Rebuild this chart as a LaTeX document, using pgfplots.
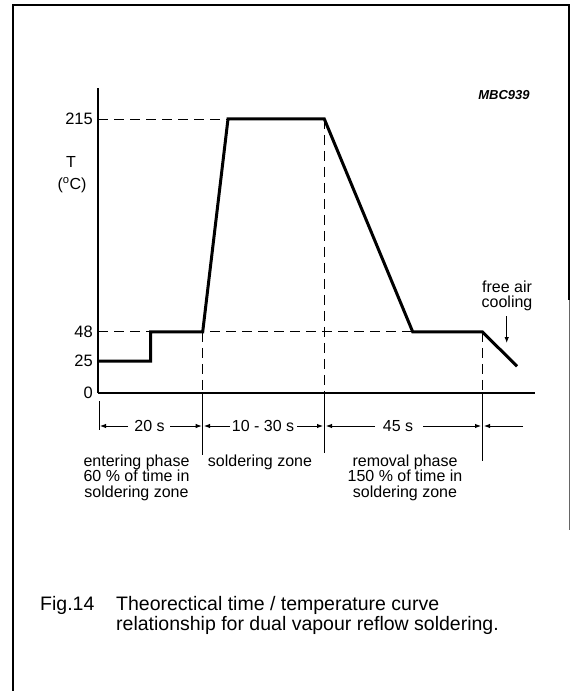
\documentclass[border=0pt]{standalone}
\usepackage{fontspec}
\setmainfont{Liberation Sans}
\usepackage{pgfplots}
\pgfplotsset{compat=1.18}
\usetikzlibrary{arrows.meta}
\begin{document}
\begin{tikzpicture}[x=1bp,y=-1bp,
  lab/.style={inner sep=0pt,font=\fontsize{16bp}{15.7bp}\selectfont},
  dim/.style={line width=0.9bp,-{Latex[length=6bp,width=4.5bp]}}]
\useasboundingbox (0,0) rectangle (570,691);
% frame
\draw[line width=2bp] (12.7,691) -- (12.7,5) -- (569,5) -- (569,300);
\draw[line width=1bp,black!60] (569,300) -- (569,530);
\begin{axis}[at={(98bp,-393bp)},anchor=south west,
  scale only axis,width=437bp,height=305bp,
  xmin=0,xmax=437,ymin=0,ymax=239.3,
  axis lines=left,axis line style={line width=1.4bp,-},
  xtick=\empty,ytick={0,25,48,215},
  major tick length=0pt,
  yticklabel style={inner sep=0pt,xshift=-5bp},
  tick label style={font=\fontsize{16.5bp}{19bp}\selectfont},
  /pgf/number format/assume math mode=true,
  clip=false]
% reference lines
\addplot[line width=0.9bp,dash pattern=on 10bp off 6bp] coordinates {(0,215) (130,215)};
\addplot[line width=0.9bp,dash pattern=on 10bp off 6bp] coordinates {(0,48) (384.3,48)};
\addplot[line width=0.9bp,dash pattern=on 10bp off 6bp] coordinates {(104.7,48) (104.7,0)};
\addplot[line width=0.9bp,dash pattern=on 10bp off 6bp] coordinates {(226.3,215) (226.3,0)};
\addplot[line width=0.9bp,dash pattern=on 10bp off 6bp] coordinates {(384.3,48) (384.3,0)};
% temperature curve
\addplot[line width=3bp,line join=miter] coordinates {
 (0,25) (52.7,25) (52.7,48) (104.7,48) (130,215) (226.3,215)
 (314.7,48) (384.3,48) (419,21)};
\end{axis}
% y label
\node[lab] at (71,162) {T};
\node[lab] at (72,185) {(\textsuperscript{o}C)};
\node[inner sep=0pt,font=\fontsize{13bp}{15bp}\selectfont\bfseries\itshape] at (504,95) {MBC939};
% free air cooling
\node[lab,align=center] at (507,296) {free air\\cooling};
\draw[dim] (506.7,316) -- (506.7,343);
% vertical lines below axis
\draw[line width=1bp] (99,401) -- (99,430);
\draw[line width=1bp] (202.7,394) -- (202.7,455);
\draw[line width=1bp] (324.3,394) -- (324.3,453);
\draw[line width=1bp] (482.3,394) -- (482.3,461);
% dimension arrows
\draw[dim] (128,426) -- (100,426);
\draw[dim] (170,426) -- (201.7,426);
\node[lab] at (149.5,426) {20 s};
\draw[dim] (230,426) -- (204,426);
\draw[dim] (297,426) -- (323,426);
\node[lab] at (263,426) {10 - 30 s};
\draw[dim] (375,426) -- (326,426);
\draw[dim] (423,426) -- (481,426);
\node[lab] at (398,426) {45 s};
\draw[dim] (523,426) -- (484,426);
% phase texts
\node[lab,align=center,anchor=base] at (136.5,497.5) {entering phase\\60 \% of time in\\soldering zone};
\node[lab,anchor=base] at (260,466.5) {soldering zone};
\node[lab,align=center,anchor=base] at (405,497.5) {removal phase\\150 \% of time in\\soldering zone};
% caption
\node[inner sep=0pt,anchor=base west,font=\fontsize{19.5bp}{21bp}\selectfont] at (40,610) {Fig.14};
\node[inner sep=0pt,anchor=base west,font=\fontsize{19.5bp}{21bp}\selectfont] at (116,610) {Theorectical time / temperature curve};
\node[inner sep=0pt,anchor=base west,font=\fontsize{19.5bp}{21bp}\selectfont] at (116,630) {relationship for dual vapour reflow soldering.};
\end{tikzpicture}
\end{document}
